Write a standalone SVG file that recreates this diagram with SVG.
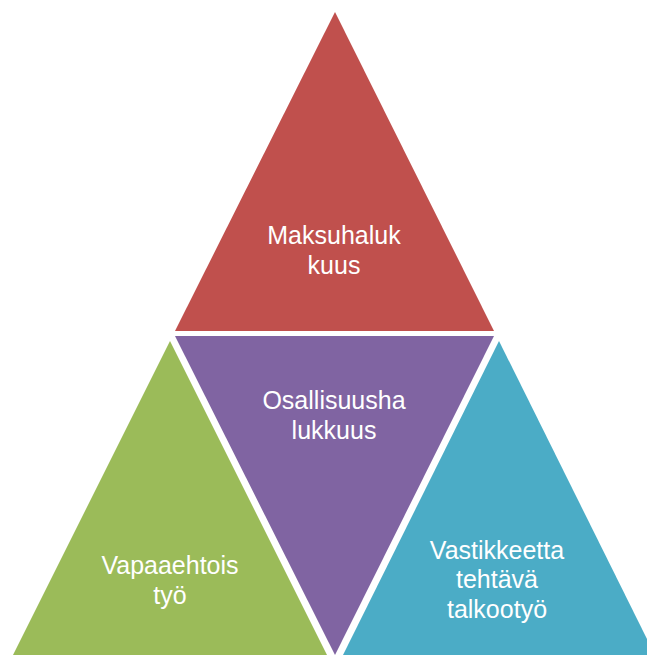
<svg xmlns="http://www.w3.org/2000/svg" width="647" height="655" viewBox="0 0 647 655">
<style>
.lbl{font-family:"Liberation Sans",Arial,sans-serif;font-size:25px;fill:#ffffff;text-anchor:middle}
</style>
<rect width="647" height="655" fill="#ffffff"/>
<g id="node-maksuhalukkuus">
<polygon points="335,12 175,331 494,331" fill="#C0504D"/>
<text class="lbl" x="334" y="244">Maksuhaluk</text>
<text class="lbl" x="334" y="274">kuus</text>
</g>
<g id="node-osallisuushalukkuus">
<polygon points="175,336 494,336 335,655" fill="#8064A2"/>
<text class="lbl" x="334" y="409">Osallisuusha</text>
<text class="lbl" x="334" y="439">lukkuus</text>
</g>
<g id="node-vapaaehtoistyo">
<polygon points="170,341 13,655 327,655" fill="#9BBB59"/>
<text class="lbl" x="170" y="574">Vapaaehtois</text>
<text class="lbl" x="170" y="604">työ</text>
</g>
<g id="node-talkootyo">
<polygon points="499,341 343,655 655,655" fill="#4BACC6"/>
<text class="lbl" x="497" y="559">Vastikkeetta</text>
<text class="lbl" x="497" y="588">tehtävä</text>
<text class="lbl" x="497" y="618">talkootyö</text>
</g>
<g id="connectors"/>
</svg>
